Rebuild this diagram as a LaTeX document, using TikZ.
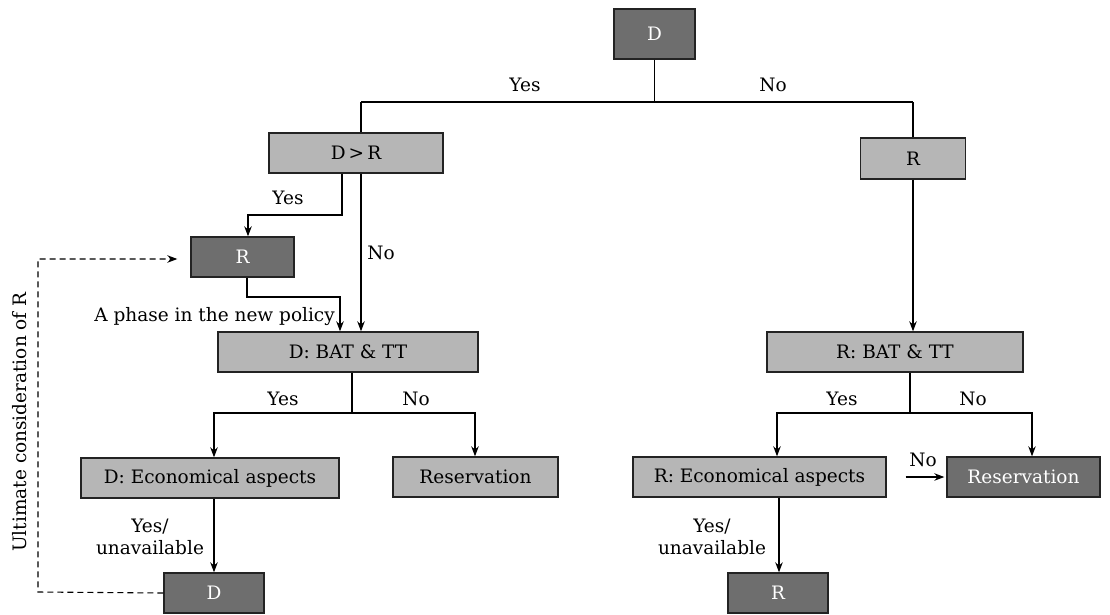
\documentclass[tikz,border=0pt]{standalone}
\usepackage{fontspec}
\setmainfont{DejaVu Serif}
\usetikzlibrary{arrows.meta}
\definecolor{lightbox}{RGB}{182,182,182}
\definecolor{darkbox}{RGB}{110,110,110}
\definecolor{boxline}{RGB}{35,35,35}
\begin{document}
\begin{tikzpicture}[x=1pt,y=-1pt,
  every node/.style={font=\fontsize{18.5}{22}\selectfont},
  lbox/.style={draw=boxline,line width=1.4pt,fill=lightbox,text=black,minimum height=40pt,inner sep=0pt},
  dbox/.style={draw=boxline,line width=1.4pt,fill=darkbox,text=white,minimum height=40pt,inner sep=0pt},
  conn/.style={line width=1.2pt,draw=black},
  arr/.style={conn,-{Stealth[length=10pt,width=7.5pt]}},
  lab/.style={inner sep=1pt}]
\useasboundingbox (0,0) rectangle (1110,614);
% boxes
\node[dbox,minimum width=81pt,minimum height=50pt] (D0) at (654.5,34) {D};
\node[lbox,minimum width=174pt] (DR) at (356,153) {D\,>\,R};
\node[lbox,minimum width=105pt,minimum height=41pt] (Rt) at (913,158.5) {R};
\node[dbox,minimum width=103pt] (R1) at (242.5,257) {R};
\node[lbox,minimum width=260pt] (DB) at (348,352) {D: BAT \& TT};
\node[lbox,minimum width=256pt] (RB) at (895,352) {R: BAT \& TT};
\node[lbox,minimum width=258pt] (DE) at (210,478) {D: Economical aspects};
\node[lbox,minimum width=165pt] (Res1) at (475.5,477) {Reservation};
\node[lbox,minimum width=253pt] (RE) at (759.5,477) {R: Economical aspects};
\node[dbox,minimum width=153pt] (Res2) at (1023.5,477) {Reservation};
\node[dbox,minimum width=100pt] (Db) at (214,593) {D};
\node[dbox,minimum width=100pt] (Rb) at (778,593) {R};
% coordinates
\coordinate (top) at (654.5,102);
\coordinate (topL) at (361,102);
\coordinate (topR) at (913,102);
\coordinate (dryes) at (342,215);
\coordinate (dryes2) at (248,215);
\coordinate (r1a) at (247,297);
\coordinate (r1b) at (340,297);
\coordinate (dbm) at (352,413);
\coordinate (dbl) at (214,413);
\coordinate (dbr) at (475,413);
\coordinate (rbm) at (910,413);
\coordinate (rbl) at (777,413);
\coordinate (rbr) at (1032,413);
\coordinate (dashA) at (38,592);
\coordinate (dashB) at (38,259);
% top split
\draw[conn] (D0.south) -- (top);
\draw[conn] (topL) -- (topR);
\draw[conn] (topL) -- (topL |- DR.north);
\draw[conn] (topR) -- (Rt.north);
\node[lab] (ly0) at (525,85) {Yes};
\node[lab] (ln0) at (773,85) {No};
% D>R
\draw[arr] (dryes |- DR.south) -- (dryes) -- (dryes2) -- (dryes2 |- R1.north);
\node[lab] (ly1) at (288,198) {Yes};
\draw[arr] (topL |- DR.south) -- (topL |- DB.north);
\node[lab] (ln1) at (381,253) {No};
\draw[arr] (r1a |- R1.south) -- (r1a) -- (r1b) -- (r1b |- DB.north);
\node[lab,anchor=east] (lph) at (336,317) {A phase in the new policy};
% D BAT
\draw[conn] (dbm |- DB.south) -- (dbm);
\draw[arr] (dbm) -- (dbl) -- (dbl |- DE.north);
\draw[arr] (dbm) -- (dbr) -- (dbr |- Res1.north);
\node[lab] (ly2) at (283,399) {Yes};
\node[lab] (ln2) at (416,399) {No};
% R side
\draw[arr] (Rt.south) -- (Rt.south |- RB.north);
\draw[conn] (rbm |- RB.south) -- (rbm);
\draw[arr] (rbm) -- (rbl) -- (rbl |- RE.north);
\draw[arr] (rbm) -- (rbr) -- (rbr |- Res2.north);
\node[lab] (ly3) at (842,399) {Yes};
\node[lab] (ln3) at (973,399) {No};
\draw[arr,shorten <=19pt,shorten >=2pt] (RE.east) -- (Res2.west);
\node[lab] (ln4) at (923,460) {No};
% bottom
\draw[arr] (214,0 |- DE.south) -- (214,0 |- Db.north);
\node[lab,align=center] (lyu1) at (150,537) {Yes/\\unavailable};
\draw[arr] (779,0 |- RE.south) -- (779,0 |- Rb.north);
\node[lab,align=center] (lyu2) at (712,537) {Yes/\\unavailable};
% dashed feedback
\draw[arr,dash pattern=on 6pt off 4pt,line width=1.1pt,shorten >=13pt] (Db.west) -- (dashA) -- (dashB) -- (dashB -| R1.west);
\node[lab,rotate=90] (lult) at (20,422) {Ultimate consideration of R};
\end{tikzpicture}
\end{document}
